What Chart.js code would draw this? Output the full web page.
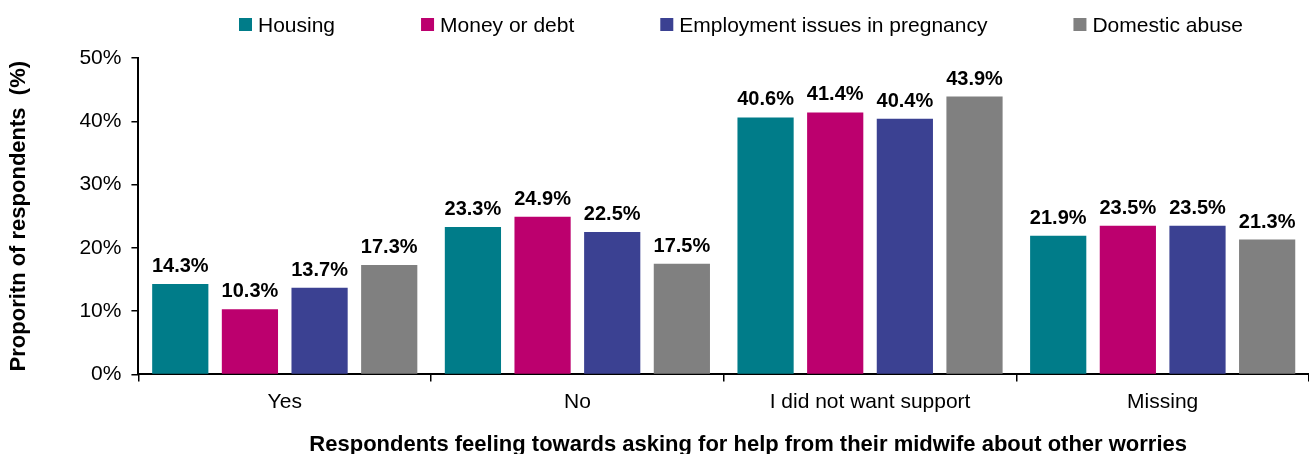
<!DOCTYPE html>
<html>
<head>
<meta charset="utf-8">
<script src="https://cdn.jsdelivr.net/npm/chart.js@4"></script>
<style>
  html, body { margin: 0; padding: 0; background: #fff; }
  #wrap { width: 1309px; height: 454px; overflow: hidden; }
</style>
</head>
<body>
<div id="wrap"><canvas id="chart" width="1309" height="454"></canvas></div>
<script>
// --- Data ---
const categories = ['Yes', 'No', 'I did not want support', 'Missing'];
const housing = [14.3, 23.3, 40.6, 21.9];
const moneyDebt = [10.3, 24.9, 41.4, 23.5];
const employment = [13.7, 22.5, 40.4, 23.5];
const domesticAbuse = [17.3, 17.5, 43.9, 21.3];
const seriesNames = ['Housing', 'Money or debt', 'Employment issues in pregnancy', 'Domestic abuse'];
const seriesColors = ['#007C89', '#BC006E', '#3B4192', '#808080'];

const FONT = 'Arial, "Liberation Sans", sans-serif';

// value labels above each bar
const barLabels = {
  id: 'barLabels',
  afterDatasetsDraw(chart) {
    const ctx = chart.ctx;
    ctx.save();
    ctx.font = 'bold 20px ' + FONT;
    ctx.fillStyle = '#000';
    ctx.textAlign = 'center';
    ctx.textBaseline = 'alphabetic';
    chart.data.datasets.forEach((ds, i) => {
      chart.getDatasetMeta(i).data.forEach((bar, j) => {
        ctx.fillText(ds.data[j].toFixed(1) + '%', bar.x, bar.y - 12);
      });
    });
    ctx.restore();
  }
};

// legend drawn by hand so the spacing looks like the original (small gap box->text, wide gap between items)
const topLegend = {
  id: 'topLegend',
  afterDraw(chart) {
    const ctx = chart.ctx;
    ctx.save();
    ctx.font = '21px ' + FONT;
    ctx.textBaseline = 'alphabetic';
    ctx.textAlign = 'left';
    let x = 239;
    chart.data.datasets.forEach(ds => {
      ctx.fillStyle = ds.backgroundColor;
      ctx.fillRect(x, 18, 13, 13);
      ctx.fillStyle = '#000';
      ctx.fillText(ds.label, x + 19, 32);
      x += 19 + ctx.measureText(ds.label).width + 86;
    });
    ctx.restore();
  }
};

const allSeries = [housing, moneyDebt, employment, domesticAbuse];

new Chart(document.getElementById('chart'), {
  type: 'bar',
  data: {
    labels: categories,
    datasets: allSeries.map((data, i) => ({
      label: seriesNames[i],
      data: data,
      backgroundColor: seriesColors[i],
      borderWidth: 0,
      categoryPercentage: 0.952,
      barPercentage: 0.807
    }))
  },
  options: {
    responsive: false,
    animation: false,
    // the plot runs a little past the right edge in the original
    layout: { padding: { left: 2, right: -5, top: 58, bottom: -4 } },
    plugins: {
      legend: { display: false },
      tooltip: { enabled: false }
    },
    scales: {
      y: {
        min: 0,
        max: 50,
        ticks: {
          stepSize: 10,
          color: '#000',
          padding: 10,
          font: { family: FONT, size: 21 },
          callback: v => v + '%'
        },
        grid: { drawOnChartArea: false, color: '#000', tickLength: 7, lineWidth: 1.5 },
        border: { color: '#000', width: 2 },
        title: {
          display: true,
          text: 'Proporitn of respondents  (%)',
          color: '#000',
          font: { family: FONT, size: 22, weight: 'bold' },
          padding: { top: 4, bottom: 37 }
        }
      },
      x: {
        ticks: {
          color: '#000',
          padding: 8,
          font: { family: FONT, size: 21 }
        },
        grid: { drawOnChartArea: false, color: '#000', tickLength: 7, lineWidth: 1.5 },
        border: { color: '#000', width: 2 },
        title: {
          display: true,
          // leading spaces nudge the title right, like the original
          text: '        Respondents feeling towards asking for help from their midwife about other worries',
          color: '#000',
          font: { family: FONT, size: 22, weight: 'bold' },
          padding: { top: 9, bottom: 0 }
        }
      }
    }
  },
  plugins: [barLabels, topLegend]
});
</script>
</body>
</html>
